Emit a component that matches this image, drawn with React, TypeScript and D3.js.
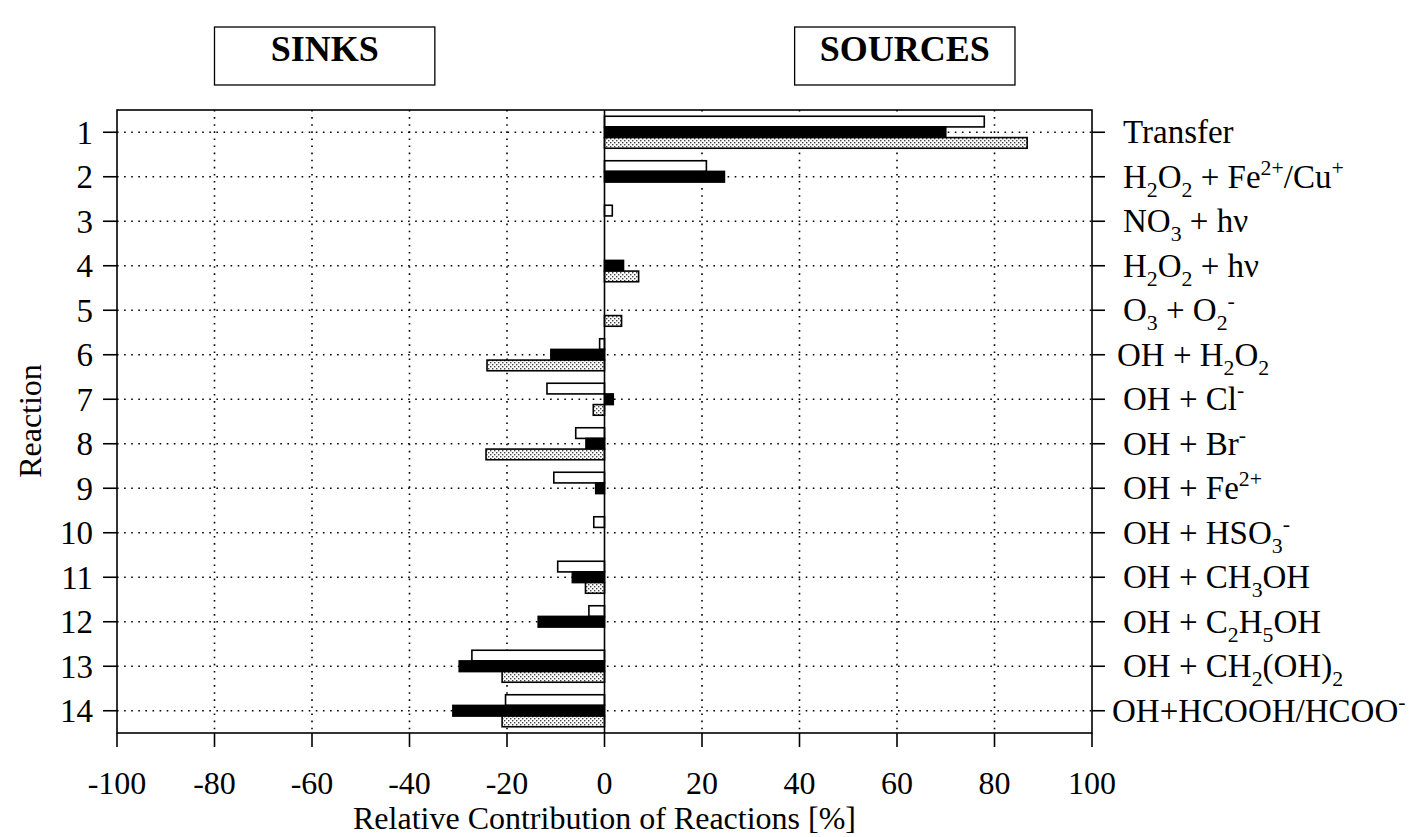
import React from "react";
import * as d3 from "d3";

// Reactions 1–14 (rows of the chart, top to bottom)
const reactionIds = ["1", "2", "3", "4", "5", "6", "7", "8", "9", "10", "11", "12", "13", "14"];

// Reaction labels on the right axis: [text, style] segments (n = normal, sub, sup)
type Seg = [string, "n" | "sub" | "sup"];
const reactionLabels: Seg[][] = [
  [["Transfer", "n"]],
  [["H", "n"], ["2", "sub"], ["O", "n"], ["2", "sub"], [" + Fe", "n"], ["2+", "sup"], ["/Cu", "n"], ["+", "sup"]],
  [["NO", "n"], ["3", "sub"], [" + hν", "n"]],
  [["H", "n"], ["2", "sub"], ["O", "n"], ["2", "sub"], [" + hν", "n"]],
  [["O", "n"], ["3", "sub"], [" + O", "n"], ["2", "sub"], ["-", "sup"]],
  [["OH + H", "n"], ["2", "sub"], ["O", "n"], ["2", "sub"]],
  [["OH + Cl", "n"], ["-", "sup"]],
  [["OH + Br", "n"], ["-", "sup"]],
  [["OH + Fe", "n"], ["2+", "sup"]],
  [["OH + HSO", "n"], ["3", "sub"], ["-", "sup"]],
  [["OH + CH", "n"], ["3", "sub"], ["OH", "n"]],
  [["OH + C", "n"], ["2", "sub"], ["H", "n"], ["5", "sub"], ["OH", "n"]],
  [["OH + CH", "n"], ["2", "sub"], ["(OH)", "n"], ["2", "sub"]],
  [["OH+HCOOH/HCOO", "n"], ["-", "sup"]],
];

// Relative contribution [%] of each reaction for the three cases
const seriesOpen = [77.9, 20.9, 1.6, 0, 0, -1.0, -11.8, -5.9, -10.4, -2.2, -9.6, -3.2, -27.2, -20.3];
const seriesSolid = [70.0, 24.6, 0, 3.9, 0, -11.0, 1.8, -3.8, -1.8, 0, -6.6, -13.6, -29.8, -31.1];
const seriesDotted = [86.7, 0, 0, 7.0, 3.5, -24.1, -2.3, -24.3, 0, 0, -3.9, 0, -21.0, -21.0];

const seriesKeys = ["open", "solid", "dotted"];
const xTicks = [-100, -80, -60, -40, -20, 0, 20, 40, 60, 80, 100];
const boxTitles = [
  { text: "SINKS", from: -80, to: -34.8 },
  { text: "SOURCES", from: 39, to: 84.2 },
];

const FONT = "'Liberation Serif', 'Times New Roman', serif";

function RichText({ segs, x, y, size }: { segs: Seg[]; x: number; y: number; size: number }) {
  const small = size * 0.66;
  const shift = { n: 0, sub: size * 0.28, sup: -size * 0.4 };
  let cur = 0;
  return (
    <text x={x} y={y} fontFamily={FONT} fontSize={size} fill="#000">
      {segs.map(([t, kind], i) => {
        const target = shift[kind];
        const dy = target - cur;
        cur = target;
        return (
          <tspan key={i} dy={dy} fontSize={kind === "n" ? size : small}>
            {t}
          </tspan>
        );
      })}
    </text>
  );
}

export default function App() {
  const W = 1428;
  const H = 837;
  const left = 117;
  const right = 1092;
  const top = 110;
  const bottom = 733;

  const x = d3.scaleLinear().domain([-100, 100]).range([left, right]);
  const y = d3.scaleBand().domain(reactionIds).range([top, bottom]);
  const sub = d3.scaleBand().domain(seriesKeys).range([-16, 16]);
  const cy = (id: string) => (y(id) as number) + y.bandwidth() / 2;

  const seriesValues: Record<string, number[]> = {
    open: seriesOpen,
    solid: seriesSolid,
    dotted: seriesDotted,
  };
  const fills: Record<string, string> = {
    open: "#fff",
    solid: "#000",
    dotted: "url(#stipple)",
  };

  const gridX = xTicks.filter((t) => t !== -100 && t !== 100 && t !== 0);

  return (
    <svg
      width={W}
      height={H}
      viewBox={`0 0 ${W} ${H}`}
      style={{ position: "absolute", left: 0, top: 0, background: "#fff" }}
    >
      <defs>
        <pattern id="stipple" width={4} height={4} patternUnits="userSpaceOnUse">
          <rect width={4} height={4} fill="#fff" />
          <rect x={0} y={0} width={1.4} height={1.4} fill="#444" />
          <rect x={2} y={2} width={1.4} height={1.4} fill="#444" />
        </pattern>
      </defs>

      {/* Title boxes */}
      {boxTitles.map((b) => (
        <g key={b.text}>
          <rect
            x={x(b.from)}
            y={27}
            width={x(b.to) - x(b.from)}
            height={58}
            fill="#fff"
            stroke="#000"
            strokeWidth={1.3}
          />
          <text
            x={(x(b.from) + x(b.to)) / 2}
            y={61}
            textAnchor="middle"
            fontFamily={FONT}
            fontWeight="bold"
            fontSize={36}
          >
            {b.text}
          </text>
        </g>
      ))}

      {/* Dotted grid */}
      <g stroke="#000" strokeWidth={1.6} strokeDasharray="1.6,5.5" fill="none">
        {gridX.map((t) => (
          <line key={t} x1={x(t)} x2={x(t)} y1={top} y2={bottom} />
        ))}
        {reactionIds.map((id) => (
          <line key={id} x1={left} x2={right} y1={cy(id)} y2={cy(id)} />
        ))}
      </g>

      {/* Bars */}
      {reactionIds.map((id, i) =>
        seriesKeys.map((k) => {
          const v = seriesValues[k][i];
          if (!v) return null;
          const x0 = x(Math.min(0, v));
          const x1 = x(Math.max(0, v));
          return (
            <rect
              key={id + k}
              x={x0}
              y={cy(id) + (sub(k) as number)}
              width={x1 - x0}
              height={sub.bandwidth()}
              fill={fills[k]}
              stroke="#000"
              strokeWidth={1.6}
            />
          );
        })
      )}

      {/* Zero line */}
      <line x1={x(0)} x2={x(0)} y1={top} y2={bottom} stroke="#000" strokeWidth={1.6} />

      {/* Frame */}
      <rect x={left} y={top} width={right - left} height={bottom - top} fill="none" stroke="#000" strokeWidth={1.6} />

      {/* Left axis ticks and labels */}
      {reactionIds.map((id) => (
        <g key={id}>
          <line x1={left - 14} x2={left} y1={cy(id)} y2={cy(id)} stroke="#000" strokeWidth={1.6} />
          <line x1={right} x2={right + 13} y1={cy(id)} y2={cy(id)} stroke="#000" strokeWidth={1.6} />
          <text
            x={93}
            y={cy(id)}
            dy="0.35em"
            textAnchor="end"
            fontFamily={FONT}
            fontSize={33}
          >
            {id}
          </text>
        </g>
      ))}

      {/* Right axis: reaction names */}
      {reactionIds.map((id, i) => (
        <RichText key={id} segs={reactionLabels[i]} x={i === 13 ? 1112 : i === 5 ? 1117 : 1123} y={cy(id) + 11} size={33} />
      ))}

      {/* Bottom axis */}
      {xTicks.map((t) => (
        <g key={t}>
          <line x1={x(t)} x2={x(t)} y1={bottom} y2={bottom + 14} stroke="#000" strokeWidth={1.6} />
          <text x={x(t)} y={794} textAnchor="middle" fontFamily={FONT} fontSize={32}>
            {t}
          </text>
        </g>
      ))}

      <text x={x(0)} y={829} textAnchor="middle" fontFamily={FONT} fontSize={32}>
        Relative Contribution of Reactions [%]
      </text>

      <text
        transform={`translate(41, 421) rotate(-90)`}
        textAnchor="middle"
        fontFamily={FONT}
        fontSize={32}
      >
        Reaction
      </text>
    </svg>
  );
}
